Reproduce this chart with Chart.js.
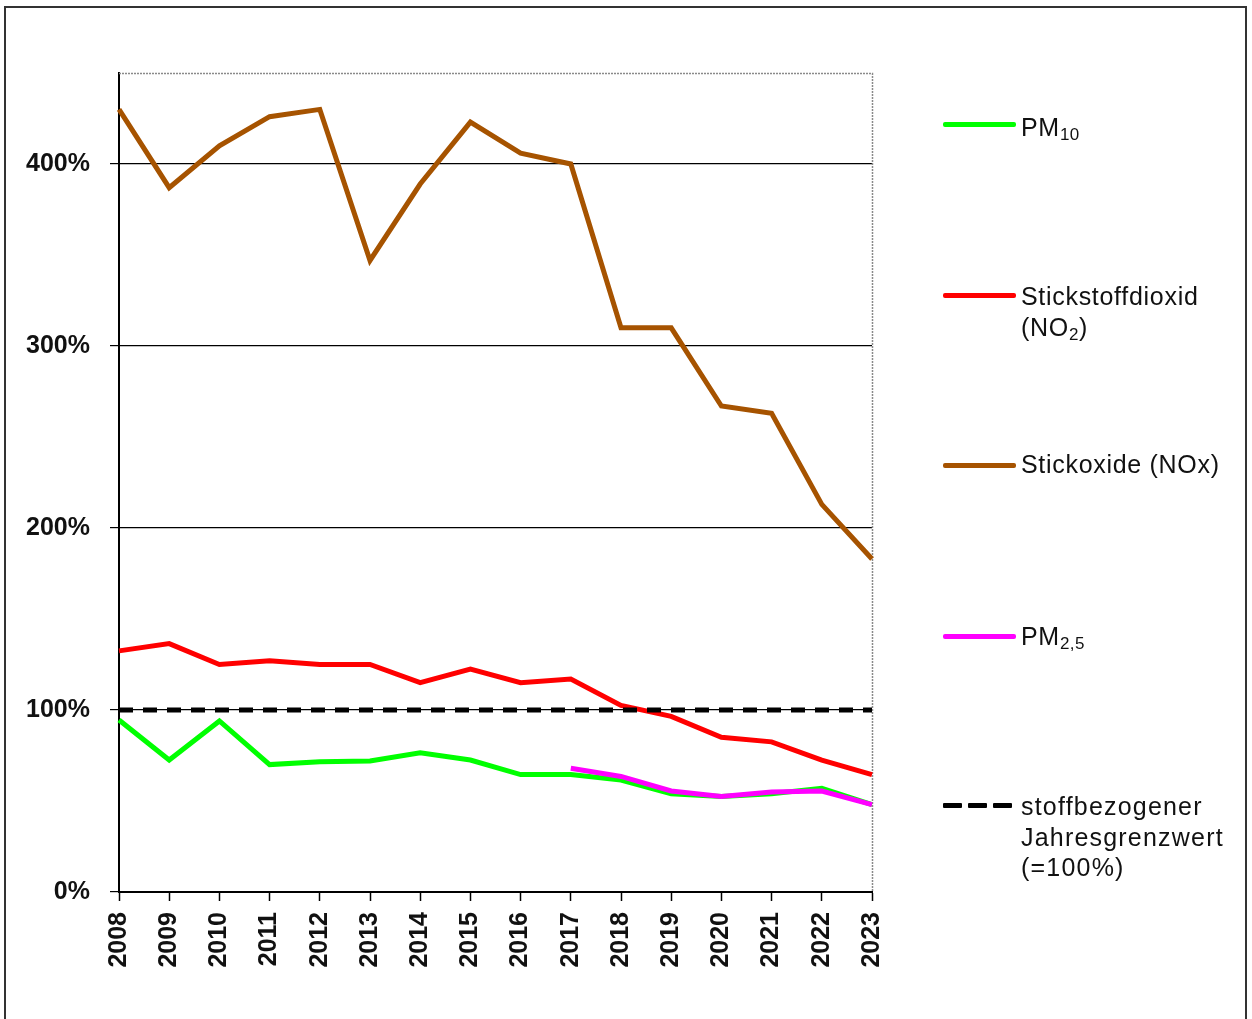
<!DOCTYPE html>
<html>
<head>
<meta charset="utf-8">
<script src="https://cdn.jsdelivr.net/npm/chart.js@4"></script>
<style>
  html, body { margin:0; padding:0; background:#fff; width:1252px; height:1019px; overflow:hidden; }
  #frame { position:absolute; left:4px; top:6px; width:1243px; height:1100px; border:2px solid #333; box-sizing:border-box; }
  #c { position:absolute; left:0; top:0; }
  .lg { position:absolute; font-family:"Liberation Sans", Arial, sans-serif; font-size:25px; line-height:31px; color:#111; white-space:nowrap; letter-spacing:0.7px; }
  .lg sub { font-size:17px; vertical-align:-4px; line-height:0; letter-spacing:0.5px; }
  .sw { position:absolute; left:943px; width:73px; height:5px; border-radius:2px; }
  .dash { position:absolute; height:5px; width:19px; background:#000; border-radius:1px; }
</style>
</head>
<body>
<div id="frame"></div>
<canvas id="c" width="1252" height="1019"></canvas>

<div class="sw" style="top:122px;background:#00ff00;"></div>
<div class="lg" style="left:1021px;top:112px;">PM<sub>10</sub></div>

<div class="sw" style="top:293px;background:#ff0000;"></div>
<div class="lg" style="left:1021px;top:281px;">Stickstoffdioxid<br>(NO<sub>2</sub>)</div>

<div class="sw" style="top:463px;background:#a65300;"></div>
<div class="lg" style="left:1021px;top:449px;">Stickoxide (NOx)</div>

<div class="sw" style="top:634px;background:#ff00ff;"></div>
<div class="lg" style="left:1021px;top:621px;">PM<sub>2,5</sub></div>

<div class="dash" style="left:943px;top:803px;"></div>
<div class="dash" style="left:968px;top:803px;"></div>
<div class="dash" style="left:993px;top:803px;"></div>
<div class="lg" style="left:1021px;top:791px;letter-spacing:1.2px;line-height:30.5px;">stoffbezogener<br>Jahresgrenzwert<br>(=100%)</div>

<script>
const years = ['2008','2009','2010','2011','2012','2013','2014','2015','2016','2017','2018','2019','2020','2021','2022','2023'];
const pm10  = [94.5, 72.5, 94, 70, 71.5, 72, 76.5, 72.5, 64.5, 64.5, 61.5, 54, 52.5, 54, 57, 48];
const no2   = [132.5, 136.5, 125, 127, 125, 125, 115, 122.5, 115, 117, 102.5, 96.5, 85, 82.5, 72.5, 64.5];
const nox   = [430, 387, 410, 426, 430, 347, 389, 423, 406, 400, 310, 310, 267, 263, 213, 183];
const pm25  = [null, null, null, null, null, null, null, null, null, 68, 63.5, 55.5, 52.5, 55, 55.5, 48];
const limit = [100, 100, 100, 100, 100, 100, 100, 100, 100, 100, 100, 100, 100, 100, 100, 100];
const yMin = 0, yMax = 450, yStep = 100;

const FONT = '"Liberation Sans", Arial, sans-serif';

const frameBorder = {
  id: 'frameBorder',
  beforeDatasetsDraw(chart) {
    const { ctx, chartArea: a } = chart;
    ctx.save();
    ctx.strokeStyle = '#8a8a8a';
    ctx.lineWidth = 1.5;
    ctx.setLineDash([2, 1]);
    ctx.beginPath();
    ctx.moveTo(a.left, a.top + 0.5);
    ctx.lineTo(a.right + 0.5, a.top + 0.5);
    ctx.lineTo(a.right + 0.5, a.bottom);
    ctx.stroke();
    ctx.restore();
  }
};

function ds(label, data, color, order, dash) {
  return {
    label, data, borderColor: color, backgroundColor: color,
    borderWidth: 5, pointRadius: 0, pointHoverRadius: 0, tension: 0,
    borderJoinStyle: 'miter', borderCapStyle: 'butt', spanGaps: false,
    borderDash: dash || [], order, fill: false
  };
}

new Chart(document.getElementById('c'), {
  type: 'line',
  data: {
    labels: years,
    datasets: [
      ds('PM10', pm10, '#00ff00', 3),
      ds('Stickstoffdioxid (NO2)', no2, '#ff0000', 2),
      ds('Stickoxide (NOx)', nox, '#a65300', 4),
      ds('PM2,5', pm25, '#ff00ff', 1),
      ds('stoffbezogener Jahresgrenzwert (=100%)', limit, '#000000', 0, [14, 10])
    ]
  },
  options: {
    responsive: false,
    devicePixelRatio: 1,
    animation: false,
    layout: { padding: { left: 0, top: 73, right: 380, bottom: 0 } },
    plugins: { legend: { display: false }, tooltip: { enabled: false } },
    scales: {
      x: {
        type: 'category',
        offset: false,
        afterFit(s) { s.height = 127; },
        grid: { drawOnChartArea: false, drawTicks: true, tickLength: 9, tickColor: '#000', tickWidth: 1.5 },
        border: { color: '#000', width: 2 },
        ticks: {
          minRotation: 90, maxRotation: 90, autoSkip: false, padding: 11,
          color: '#111', font: { family: FONT, size: 25, weight: 'bold' }
        }
      },
      y: {
        min: yMin, max: yMax,
        afterFit(s) { s.width = 119; },
        afterBuildTicks(s) { s.ticks = s.ticks.filter(t => t.value % yStep === 0); },
        grid: {
          color: (c) => (c.tick && c.tick.value === 0) ? 'rgba(0,0,0,0)' : '#000',
          lineWidth: 1.2, drawTicks: true, tickLength: 9, tickColor: '#000'
        },
        border: { color: '#000', width: 2 },
        ticks: {
          stepSize: yStep, padding: 20, color: '#111',
          font: { family: FONT, size: 25, weight: 'bold' },
          callback: (v) => v + '%'
        }
      }
    }
  },
  plugins: [frameBorder]
});
</script>
</body>
</html>
